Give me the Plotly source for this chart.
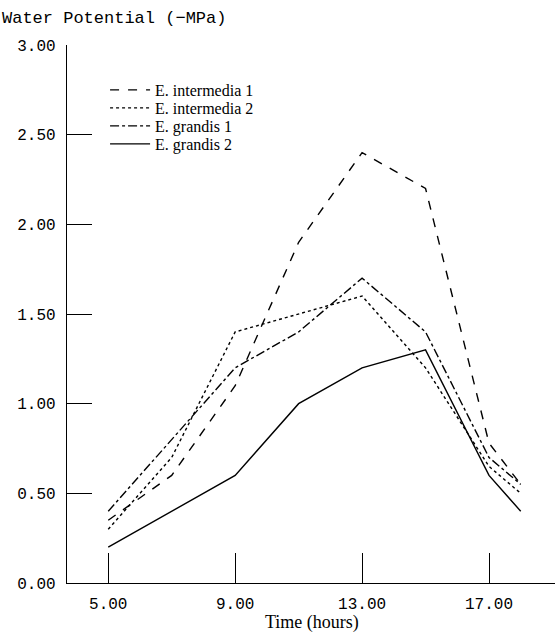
import plotly.graph_objects as go

hours = [5, 7, 9, 11, 13, 15, 17, 18]
intermedia_1 = [0.35, 0.60, 1.10, 1.90, 2.40, 2.20, 0.78, 0.55]
intermedia_2 = [0.30, 0.70, 1.40, 1.50, 1.60, 1.20, 0.65, 0.50]
grandis_1 = [0.40, 0.80, 1.20, 1.40, 1.70, 1.40, 0.70, 0.55]
grandis_2 = [0.20, 0.40, 0.60, 1.00, 1.20, 1.30, 0.60, 0.40]

series_names = ["E. intermedia 1", "E. intermedia 2", "E. grandis 1", "E. grandis 2"]
series_vals = [intermedia_1, intermedia_2, grandis_1, grandis_2]
dashes = ["dash", "dot", "dashdot", "solid"]

x_ticks = [5, 9, 13, 17]
x_tick_labels = ["5.00", "9.00", "13.00", "17.00"]
y_ticks = [0, 0.5, 1.0, 1.5, 2.0, 2.5, 3.0]
y_tick_labels = ["0.00", "0.50", "1.00", "1.50", "2.00", "2.50", "3.00"]

serif = "Liberation Serif"
mono = "Liberation Mono"

legend_names = ["legend", "legend2", "legend3", "legend4"]
legend_rows_px = [90, 108, 126, 144]
plot_top, plot_bottom = 45, 583
plot_h = plot_bottom - plot_top

fig = go.Figure()
for name, vals, d, lg in zip(series_names, series_vals, dashes, legend_names):
    fig.add_trace(go.Scatter(x=hours, y=vals, mode="lines", name=name, legend=lg,
                             line=dict(color="black", width=1.4, dash=d)))

legend_layout = {}
for lg, py in zip(legend_names, legend_rows_px):
    legend_layout[lg] = dict(
        x=0.078, y=(plot_bottom - py) / plot_h, xanchor="left", yanchor="middle",
        font=dict(family=serif, size=16, color="black"),
        bgcolor="rgba(0,0,0,0)", itemwidth=40, borderwidth=0)

fig.update_layout(
    width=555, height=641,
    margin=dict(l=67, r=0, t=45, b=58),
    paper_bgcolor="white", plot_bgcolor="white",
    showlegend=True,
    xaxis=dict(range=[3.7, 19.08], showgrid=False, zeroline=False,
               showline=True, linecolor="black", linewidth=1.4,
               ticks="inside", ticklen=30, tickwidth=1.4, tickcolor="black",
               tickvals=x_ticks, ticktext=x_tick_labels, ticklabelstandoff=6,
               tickfont=dict(family=mono, size=16, color="black")),
    yaxis=dict(range=[0, 3], showgrid=False, zeroline=False,
               showline=True, linecolor="black", linewidth=1.4,
               ticks="inside", ticklen=25, tickwidth=1.4, tickcolor="black",
               tickvals=y_ticks, ticktext=y_tick_labels, ticklabelstandoff=7,
               tickfont=dict(family=mono, size=16, color="black")),
    annotations=[
        dict(text="Water Potential (−MPa)", xref="paper", yref="paper",
             x=-67/488, y=1 + 27/538, xanchor="left", yanchor="middle",
             showarrow=False, font=dict(family=mono, size=17, color="black")),
        dict(text="Time (hours)", xref="paper", yref="paper",
             x=(312-67)/488, y=-(622-583)/538, xanchor="center", yanchor="middle",
             showarrow=False, font=dict(family=serif, size=18, color="black")),
    ],
    **legend_layout,
)

fig.write_html("out.html")
